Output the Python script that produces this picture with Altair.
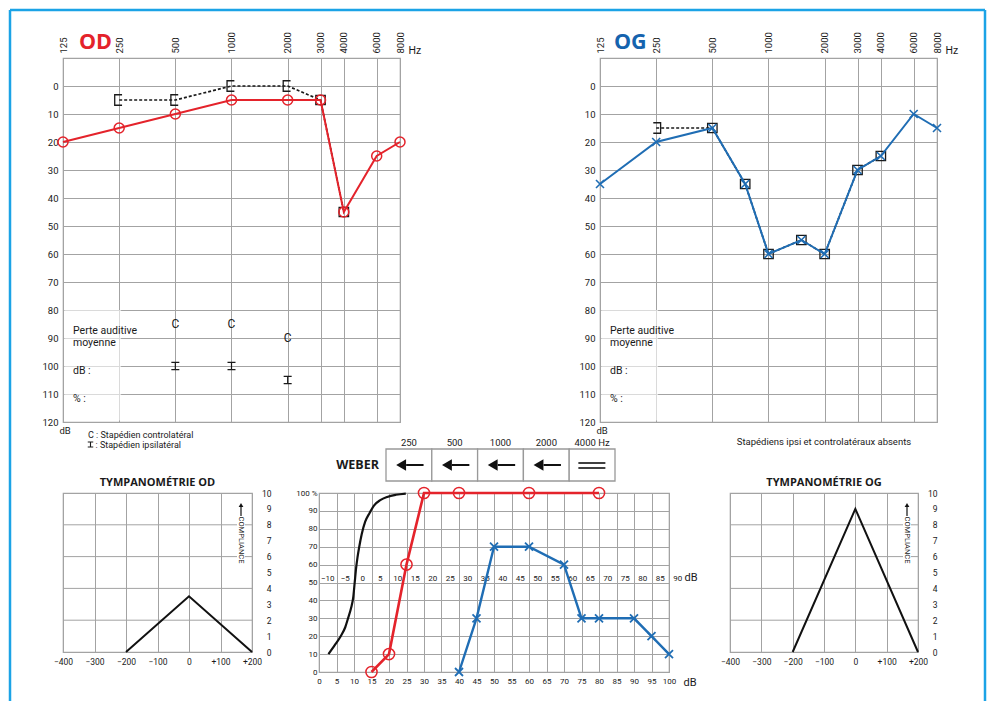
import altair as alt
import pandas as pd

# ---------------- data ----------------
freq_ticks = [125, 250, 500, 1000, 2000, 3000, 4000, 6000, 8000]
db_ticks = list(range(0, 121, 10))

od_air_f = [125, 250, 500, 1000, 2000, 3000, 4000, 6000, 8000]
od_air_db = [20, 15, 10, 5, 5, 5, 45, 25, 20]
od_bone_f = [250, 500, 1000, 2000, 3000, 4000]
od_bone_db = [5, 5, 0, 0, 5, 45]
od_bone_sym = ["crochet_d", "crochet_d", "crochet_d", "crochet_d", "carre", "carre"]
stap_f = [500, 1000, 2000]
stap_contra_db = [85, 85, 90]
stap_ipsi_db = [100, 100, 105]

og_air_f = [125, 250, 500, 750, 1000, 1500, 2000, 3000, 4000, 6000, 8000]
og_air_db = [35, 20, 15, 35, 60, 55, 60, 30, 25, 10, 15]
og_bone_f = [250, 500, 750, 1000, 1500, 2000, 3000, 4000]
og_bone_db = [15, 15, 35, 60, 55, 60, 30, 25]
og_bone_sym = ["crochet_g", "carre", "carre", "carre", "carre", "carre", "carre", "carre"]

weber_freqs = ["250", "500", "1000", "2000", "4000 Hz"]
weber_res = ["gauche", "gauche", "gauche", "gauche", "égal"]

voc_x_ticks = list(range(0, 101, 5))
voc_y_ticks = list(range(0, 101, 10))
voc_mid_labels = list(range(-10, 91, 5))
norm_x = [2.7, 4.5, 6.2, 7.5, 8.3, 9.2, 9.8, 10.2, 10.6, 11.0, 11.5, 12.2, 13.2, 14.5, 15.7, 17.5, 19.5, 22.0, 24.8]
norm_y = [10, 15, 20, 25, 30, 36, 42, 50, 58, 64, 70, 77, 84, 89, 93, 96, 97.8, 99, 99.7]
od_voc_x = [15, 20, 25, 30, 40, 60, 80]
od_voc_y = [0, 10, 60, 100, 100, 100, 100]
og_voc_x = [40, 45, 50, 60, 70, 75, 80, 90, 95, 100]
og_voc_y = [0, 30, 70, 70, 60, 30, 30, 30, 20, 10]

tymp_x_ticks = [-400, -300, -200, -100, 0, 100, 200]
tymp_y_ticks = list(range(0, 11))
tymp_grid_y = [2, 4, 6, 8]
tymp_od_p = [-200, 0, 200]
tymp_od_c = [0, 3.5, 0]
tymp_og_p = [-200, 0, 200]
tymp_og_c = [0, 9, 0]

# ---------------- styles ----------------
RED = "#e4232b"
BLUE = "#1f6db4"
GRID = "#a3a3a3"
INK = "#1a1a1a"
FRAME = "#1ba3e6"
FONT = "Roboto"
BOLD = "Open Sans"

BR_D = "M0.55,-1L-0.85,-1L-0.85,1L0.55,1"
BR_G = "M-0.55,-1L0.85,-1L0.85,1L-0.55,1"
SQ = "M-0.9,-0.9L0.9,-0.9L0.9,0.9L-0.9,0.9Z"
XM = "M-1,-1L1,1M-1,1L1,-1"
IB = "M-1,-0.9L1,-0.9M0,-0.9L0,0.9M-1,0.9L1,0.9"

ONE = pd.DataFrame({"k": [0]})

W_A, H_A = 337, 364


def txt(s, x, y, size=10, align="left", baseline="middle", font=FONT,
        weight="normal", color=INK, angle=0):
    return alt.Chart(ONE).mark_text(
        text=s, align=align, baseline=baseline, font=font, fontSize=size,
        fontWeight=weight, color=color, angle=angle
    ).encode(x=alt.value(x), y=alt.value(y))


def audiogram(side):
    xs = alt.Scale(type="log", base=2, domain=[125, 8000], nice=False)
    ys = alt.Scale(domain=[-10, 120], reverse=True, nice=False, zero=False)
    xax = alt.Axis(orient="top", values=freq_ticks, format="d", labelAngle=-90,
                   labelAlign="left", labelBaseline="middle", labelPadding=5,
                   labelFontSize=9.5, labelFlush=False, labelOverlap=False,
                   grid=True, gridColor=GRID, domain=False, ticks=False, tickSize=0,
                   title="Hz", titleX=345, titleY=-8, titleAngle=0, titleAlign="left",
                   titleBaseline="middle", titleFontSize=10.5, titleFontWeight="normal")
    yax = alt.Axis(values=db_ticks, grid=True, gridColor=GRID, domain=False,
                   ticks=False, tickSize=0, labelPadding=5, labelFontSize=9.5,
                   labelOverlap=False, title="dB", titleX=-4, titleY=H_A + 8,
                   titleAngle=0, titleAlign="left", titleBaseline="middle",
                   titleFontSize=9.5, titleFontWeight="normal")

    def X(f):
        return alt.X(f"{f}:Q", scale=xs, axis=xax)

    def Y(f):
        return alt.Y(f"{f}:Q", scale=ys, axis=yax)

    shape_scale = alt.Scale(domain=["crochet_d", "crochet_g", "carre"], range=[BR_D, BR_G, SQ])

    dim = alt.Chart(pd.DataFrame({"f1": [127], "f2": [256], "d1": [80], "d2": [119.5]})).mark_rect(
        fill="white", opacity=0.6).encode(x=X("f1"), x2="f2", y=Y("d1"), y2="d2")

    if side == "OD":
        air = pd.DataFrame({"f": od_air_f, "db": od_air_db})
        bone = pd.DataFrame({"f": od_bone_f, "db": od_bone_db, "sym": od_bone_sym})
        col = RED
        air_pts = alt.Chart(air).mark_point(shape="circle", filled=False, size=100,
                                            strokeWidth=1.5, color=RED, opacity=1)
    else:
        air = pd.DataFrame({"f": og_air_f, "db": og_air_db})
        bone = pd.DataFrame({"f": og_bone_f, "db": og_bone_db, "sym": og_bone_sym})
        col = BLUE
        air_pts = alt.Chart(air).mark_point(shape=XM, filled=False, size=64,
                                            strokeWidth=1.6, color=BLUE, opacity=1)

    bone_line = alt.Chart(bone).mark_line(color=INK, strokeDash=[3, 2], strokeWidth=1.7).encode(
        x=X("f"), y=Y("db"))
    bone_pts = alt.Chart(bone).mark_point(filled=False, size=110, strokeWidth=1.3,
                                          color=INK, opacity=1).encode(
        x=X("f"), y=Y("db"), shape=alt.Shape("sym:N", scale=shape_scale, legend=None))
    air_line = alt.Chart(air).mark_line(color=col, strokeWidth=2).encode(x=X("f"), y=Y("db"))
    air_pts = air_pts.encode(x=X("f"), y=Y("db"))

    layers = [dim, bone_line, bone_pts, air_line, air_pts,
              txt("Perte auditive", 10, 273, 10.5),
              txt("moyenne", 10, 284.5, 10.5),
              txt("dB :", 10, 312.5, 10.5),
              txt("% :", 10, 340.5, 10.5)]

    if side == "OD":
        contra = pd.DataFrame({"f": stap_f, "db": stap_contra_db})
        ipsi = pd.DataFrame({"f": stap_f, "db": stap_ipsi_db})
        layers += [
            alt.Chart(contra).mark_text(text="C", font=FONT, fontSize=12, color=INK).encode(
                x=X("f"), y=Y("db")),
            alt.Chart(ipsi).mark_point(shape=IB, filled=False, size=64, strokeWidth=1.2,
                                       color=INK, opacity=1).encode(x=X("f"), y=Y("db")),
            txt("C : Stapédien controlatéral", 25, 376.5, 9),
            alt.Chart(ONE).mark_point(shape=IB, filled=False, size=30, strokeWidth=1.1,
                                      color=INK, opacity=1).encode(x=alt.value(27.5), y=alt.value(386.5)),
            txt(": Stapédien ipsilatéral", 32.5, 386.5, 9),
            txt("OD", 16, -9, 21.5, baseline="alphabetic", font=BOLD, weight="bold", color=RED),
            # outer frame of the sheet
            alt.Chart(ONE).mark_rule(color=FRAME, strokeWidth=2.5).encode(
                x=alt.value(-53), y=alt.value(-48), y2=alt.value(643)),
            alt.Chart(ONE).mark_rule(color=FRAME, strokeWidth=2.5).encode(
                x=alt.value(-53), x2=alt.value(922), y=alt.value(-48)),
            alt.Chart(ONE).mark_rule(color=FRAME, strokeWidth=2.5).encode(
                x=alt.value(922), y=alt.value(-48), y2=alt.value(643)),
        ]
    else:
        layers += [
            txt("Stapédiens ipsi et controlatéraux absents", 224, 384, 9.5, align="center"),
            txt("OG", 14, -9, 21.5, baseline="alphabetic", font=BOLD, weight="bold", color="#1563ae"),
        ]
    return alt.layer(*layers).properties(width=W_A, height=H_A)


# ---------------- Weber ----------------
W_W, H_W = 552, 32
CELL = 45.8
wx = alt.Scale(domain=[5 - W_W / CELL, 5], nice=False, zero=False)
weber_df = pd.DataFrame({"freq": weber_freqs, "res": weber_res, "i": list(range(len(weber_freqs)))})
wbase = alt.Chart(weber_df).transform_calculate(
    i1="datum.i + 1", ic="datum.i + 0.5",
    a0="datum.i + 0.5 - 0.06", a1="datum.i + 0.5 + 0.32", ah="datum.i + 0.5 - 0.17",
    e0="datum.i + 0.5 - 0.3", e1="datum.i + 0.5 + 0.29")
gauche = wbase.transform_filter("datum.res == 'gauche'")
egal = wbase.transform_filter("datum.res == 'égal'")


def WX(f):
    return alt.X(f"{f}:Q", scale=wx, axis=None)


weber = alt.layer(
    wbase.mark_rect(fill="white", stroke="#999999", strokeWidth=1.3).encode(
        x=WX("i"), x2="i1:Q", y=alt.value(0), y2=alt.value(H_W)),
    gauche.mark_rule(color="#111111", strokeWidth=2).encode(
        x=WX("a0"), x2="a1:Q", y=alt.value(16)),
    gauche.mark_point(shape="triangle-left", filled=True, size=130, strokeWidth=0,
                      color="#111111", opacity=1).encode(x=WX("ah"), y=alt.value(16)),
    egal.mark_rule(color="#111111", strokeWidth=1.6).encode(
        x=WX("e0"), x2="e1:Q", y=alt.value(14)),
    egal.mark_rule(color="#111111", strokeWidth=1.6).encode(
        x=WX("e0"), x2="e1:Q", y=alt.value(19)),
    wbase.mark_text(font=FONT, fontSize=9.5, color=INK).encode(
        x=WX("ic"), y=alt.value(-6), text="freq:N"),
    txt("WEBER", 316, 16, 12.5, align="right", font=BOLD, weight="bold"),
).properties(width=W_W, height=H_W, view=alt.ViewBackground(stroke=None))

# ---------------- speech audiometry ----------------
W_V, H_V = 350, 179
vx = alt.Scale(domain=[0, 100], nice=False, zero=False)
vy = alt.Scale(domain=[0, 100], nice=False, zero=False)
vxa = alt.Axis(values=voc_x_ticks, grid=True, gridColor=GRID, domain=False, ticks=False,
               tickSize=0, labelPadding=5, labelFontSize=8, labelFlush=False, labelOverlap=False,
               title="dB", titleX=364, titleY=10, titleAngle=0, titleAlign="left",
               titleBaseline="middle", titleFontSize=11, titleFontWeight="normal")
vya = alt.Axis(values=voc_y_ticks, grid=True, gridColor=GRID, domain=False, ticks=False,
               tickSize=0, labelPadding=2, labelFontSize=8, labelOverlap=False,
               labelExpr="datum.value == 100 ? '100 %' : datum.label", title=None)


def VX(f):
    return alt.X(f"{f}:Q", scale=vx, axis=vxa)


def VY(f):
    return alt.Y(f"{f}:Q", scale=vy, axis=vya)


norm_df = pd.DataFrame({"x": norm_x, "y": norm_y})
odv = pd.DataFrame({"x": od_voc_x, "y": od_voc_y})
ogv = pd.DataFrame({"x": og_voc_x, "y": og_voc_y})
mid_df = pd.DataFrame({"v": voc_mid_labels})
vocal = alt.layer(
    alt.Chart(mid_df).transform_calculate(xp="datum.v + 12.5", yp="50").mark_text(
        font=FONT, fontSize=8, dy=-4, color=INK).encode(
        x=VX("xp"), y=VY("yp"), text=alt.Text("v:Q", format="d")),
    txt("dB", 365.5, 85, 11),
    alt.Chart(norm_df).mark_line(color="#111111", strokeWidth=2.2, interpolate="monotone").encode(
        x=VX("x"), y=VY("y")),
    alt.Chart(odv).mark_line(color=RED, strokeWidth=2.6).encode(x=VX("x"), y=VY("y")),
    alt.Chart(odv).mark_point(shape="circle", filled=False, size=125, strokeWidth=1.5,
                              color=RED, opacity=1).encode(x=VX("x"), y=VY("y")),
    alt.Chart(ogv).mark_line(color=BLUE, strokeWidth=2.4).encode(x=VX("x"), y=VY("y")),
    alt.Chart(ogv).mark_point(shape=XM, filled=False, size=64, strokeWidth=1.8,
                              color=BLUE, opacity=1).encode(x=VX("x"), y=VY("y")),
).properties(width=W_V, height=H_V)


# ---------------- tympanometry ----------------
H_T = 159


def tymp(px, cy, title, width):
    tx = alt.Scale(domain=[-400, 200], nice=False, zero=False)
    ty = alt.Scale(domain=[0, 10], nice=False, zero=False)
    txa = alt.Axis(values=tymp_x_ticks, grid=True, gridColor=GRID, domain=False, ticks=False,
                   tickSize=0, labelPadding=5, labelFontSize=8.5, labelFlush=False,
                   labelOverlap=False,
                   labelExpr="datum.value > 0 ? '+' + datum.label : datum.label", title=None)
    tya = alt.Axis(orient="right", values=tymp_y_ticks, grid=False, domain=False, ticks=False,
                   tickSize=0, labelAlign="right", labelPadding=19, labelFontSize=8.5,
                   labelOverlap=False, title=None)
    df = pd.DataFrame({"p": px, "c": cy})
    gdf = pd.DataFrame({"g": tymp_grid_y})
    cx = width - 11
    return alt.layer(
        alt.Chart(gdf).mark_rule(color=GRID, strokeWidth=1).encode(
            y=alt.Y("g:Q", scale=ty, axis=tya), x=alt.value(0), x2=alt.value(width)),
        alt.Chart(df).mark_line(color="#111111", strokeWidth=2).encode(
            x=alt.X("p:Q", scale=tx, axis=txa), y=alt.Y("c:Q", scale=ty, axis=tya)),
        alt.Chart(ONE).mark_rect(fill="white").encode(
            x=alt.value(cx - 4), x2=alt.value(cx + 4), y=alt.value(24), y2=alt.value(70)),
        txt("COMPLIANCE", cx, 47, 7.5, align="center", angle=90),
        alt.Chart(ONE).mark_rule(color="#111111", strokeWidth=1.2).encode(
            x=alt.value(cx), y=alt.value(13), y2=alt.value(23)),
        alt.Chart(ONE).mark_point(shape="triangle-up", filled=True, size=22, color="#111111",
                                  opacity=1, strokeWidth=0).encode(x=alt.value(cx), y=alt.value(12)),
        txt(title, width / 2, -10, 11, align="center", font=BOLD, weight="bold"),
    ).properties(width=width, height=H_T)


tymp_od = tymp(tymp_od_p, tymp_od_c, "TYMPANOMÉTRIE OD", 189)
tymp_og = tymp(tymp_og_p, tymp_og_c, "TYMPANOMÉTRIE OG", 188)

# ---------------- layout ----------------
row1 = alt.hconcat(audiogram("OD"), audiogram("OG"), spacing=200, bounds="flush")
row3 = alt.hconcat(tymp_od, alt.hconcat(vocal, tymp_og, spacing=61, bounds="flush"),
                   spacing=67, bounds="flush")
lower = alt.vconcat(weber, row3, spacing=12, bounds="flush")

chart = alt.vconcat(row1, lower, spacing=391, bounds="flush").properties(
    padding=0, background="white"
).configure_view(stroke=GRID, strokeWidth=1.2).configure_axis(
    labelFont=FONT, titleFont=FONT, labelColor=INK, titleColor=INK
).configure_text(font=FONT, color=INK)

chart.save("out.html", embed_options={"renderer": "svg", "actions": False})
